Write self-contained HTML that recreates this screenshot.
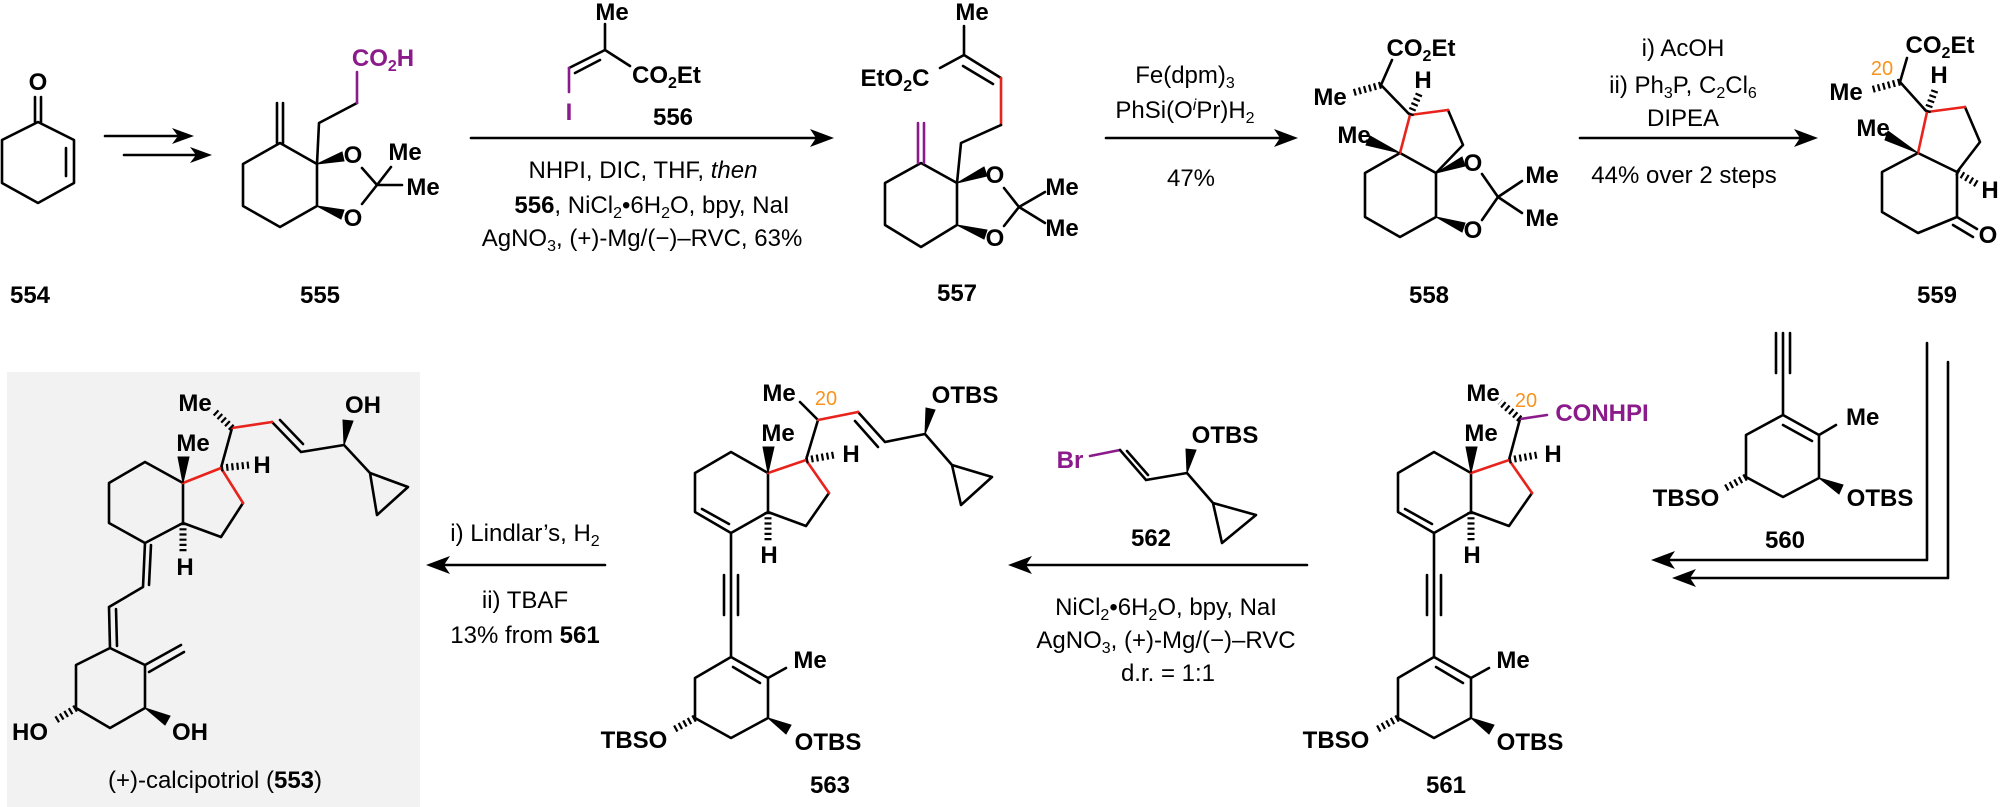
<!DOCTYPE html>
<html><head><meta charset="utf-8"><style>
html,body{margin:0;padding:0;background:#fff;}
svg{display:block}
.b{stroke:#000;stroke-width:2.6;fill:none;stroke-linejoin:round;stroke-linecap:round}
.r{stroke:#e8231c;stroke-width:2.6;fill:none;stroke-linecap:round}
.p{stroke:#8b1a8b;stroke-width:2.6;fill:none;stroke-linecap:round}
.h{stroke:#000;stroke-width:7;stroke-dasharray:2.2 3;fill:none}
.w{fill:#000;stroke:#000;stroke-width:1}
text{font-family:"Liberation Sans",Arial,sans-serif;}
.a{font-size:24px;font-weight:bold;text-anchor:middle}
.c{font-size:24px;text-anchor:middle}
.n{font-size:20px;fill:#f7931e;text-anchor:middle}
.pu{fill:#8b1a8b}
</style></head><body>
<svg width="2000" height="807" viewBox="0 0 2000 807" xmlns="http://www.w3.org/2000/svg">
<rect x="7" y="372" width="413" height="435" fill="#f2f2f2"/>

<!-- 554 -->
<path class="b" d="M38,122 L74,140 L74,183 L38,203 L2,183 L2,140 Z M66,148 L66,176 M35,97 L35,122 M41,97 L41,122"/>
<text class="a" x="38" y="90">O</text>
<text class="a" x="30" y="303">554</text>
<!-- arrows 554->555 -->
<path class="b" d="M105,136 L185,136 M124,155 L203,155"/>
<path d="M194,136 L172,128 L178,136 L172,144 Z M212,155 L190,147 L196,155 L190,163 Z" fill="#000"/>

<!-- 555 -->
<path class="b" d="M280,143 L317,164 L317,206 L280,227 L243,206 L243,164 Z M277,103 L277,143 M283,103 L283,143 M317,164 L319,123 L357,103"/>
<path class="p" d="M357,103 L357,72"/>
<polygon class="w" points="317,164 342,152 344,161"/>
<polygon class="w" points="317,206 344,210 341,219"/>
<path class="b" d="M362,168 L377,185 L362,204 M377,185 L391,167 M377,185 L402,185"/>
<text class="a pu" x="383" y="66">CO<tspan font-size="16" dy="5">2</tspan><tspan dy="-5">H</tspan></text>
<text class="a" x="353" y="163">O</text>
<text class="a" x="353" y="226">O</text>
<text class="a" x="405" y="160">Me</text>
<text class="a" x="423" y="195">Me</text>
<text class="a" x="320" y="303">555</text>

<!-- 556 -->
<path class="b" d="M605,24 L605,50 L569,68 M600,60 L575,73 M605,50 L630,66"/>
<path class="p" d="M569,68 L569,92"/>
<text class="a pu" x="569" y="120">I</text>
<text class="a" x="612" y="20">Me</text>
<text class="a" x="632" y="83" style="text-anchor:start">CO<tspan font-size="16" dy="5">2</tspan><tspan dy="-5">Et</tspan></text>
<text class="a" x="673" y="125">556</text>
<path class="b" d="M471,138 L822,138"/>
<path d="M834,138 L810,129 L816,138 L810,147 Z" fill="#000"/>
<text class="c" x="643" y="178">NHPI, DIC, THF, <tspan font-style="italic">then</tspan></text>
<text class="c" x="652" y="213"><tspan font-weight="bold">556</tspan>, NiCl<tspan font-size="16" dy="5">2</tspan><tspan dy="-5">•6H</tspan><tspan font-size="16" dy="5">2</tspan><tspan dy="-5">O, bpy, NaI</tspan></text>
<text class="c" x="642" y="246">AgNO<tspan font-size="16" dy="5">3</tspan><tspan dy="-5">, (+)-Mg/(−)–RVC, 63%</tspan></text>

<!-- 557 -->
<path class="b" d="M964,26 L964,55 L940,68 M964,55 L1001,78 M963,66 L993,84"/>
<path class="r" d="M1001,78 L1001,125"/>
<path class="b" d="M1001,125 L961,143 L957,183 M921,163 L957,183 L957,225 L921,247 L885,225 L885,183 Z"/>
<path class="p" d="M918,123 L918,163 M924,123 L924,163"/>
<polygon class="w" points="957,183 984,167 987,176"/>
<polygon class="w" points="957,225 987,230 984,239"/>
<path class="b" d="M1004,188 L1019,207 L1004,226 M1019,207 L1045,192 M1019,207 L1045,223"/>
<text class="a" x="972" y="20">Me</text>
<text class="a" x="895" y="86">EtO<tspan font-size="16" dy="5">2</tspan><tspan dy="-5">C</tspan></text>
<text class="a" x="995" y="183">O</text>
<text class="a" x="995" y="246">O</text>
<text class="a" x="1062" y="195">Me</text>
<text class="a" x="1062" y="236">Me</text>
<text class="a" x="957" y="301">557</text>
<path class="b" d="M1106,138 L1286,138"/>
<path d="M1298,138 L1274,129 L1280,138 L1274,147 Z" fill="#000"/>
<text class="c" x="1185" y="83">Fe(dpm)<tspan font-size="16" dy="5">3</tspan></text>
<text class="c" x="1185" y="118">PhSi(O<tspan font-style="italic" font-size="16" dy="-8">i</tspan><tspan dy="8">Pr)H</tspan><tspan font-size="16" dy="5">2</tspan></text>
<text class="c" x="1191" y="186">47%</text>

<!-- 558 -->
<path class="b" d="M1400,153 L1436,173 L1436,217 L1400,237 L1365,217 L1365,173 Z M1448,110 L1463,145 L1436,173 M1410,115 L1381,85 L1392,60"/>
<path class="r" d="M1400,153 L1410,115 L1448,110"/>
<path class="h" d="M1410,115 L1420,92 M1381,85 L1352,93"/>
<polygon class="w" points="1400,153 1370,136 1366,145"/>
<polygon class="w" points="1436,173 1462,157 1465,166"/>
<polygon class="w" points="1436,217 1465,223 1462,232"/>
<path class="b" d="M1482,174 L1498,197 L1482,220 M1498,197 L1522,181 M1498,197 L1522,213"/>
<text class="a" x="1421" y="56">CO<tspan font-size="16" dy="5">2</tspan><tspan dy="-5">Et</tspan></text>
<text class="a" x="1423" y="88">H</text>
<text class="a" x="1330" y="105">Me</text>
<text class="a" x="1354" y="143">Me</text>
<text class="a" x="1473" y="171">O</text>
<text class="a" x="1473" y="238">O</text>
<text class="a" x="1542" y="183">Me</text>
<text class="a" x="1542" y="226">Me</text>
<text class="a" x="1429" y="303">558</text>
<path class="b" d="M1580,138 L1806,138"/>
<path d="M1818,138 L1794,129 L1800,138 L1794,147 Z" fill="#000"/>
<text class="c" x="1683" y="56">i) AcOH</text>
<text class="c" x="1683" y="93">ii) Ph<tspan font-size="16" dy="5">3</tspan><tspan dy="-5">P, C</tspan><tspan font-size="16" dy="5">2</tspan><tspan dy="-5">Cl</tspan><tspan font-size="16" dy="5">6</tspan></text>
<text class="c" x="1683" y="126">DIPEA</text>
<text class="c" x="1684" y="183">44% over 2 steps</text>

<!-- 559 -->
<path class="b" d="M1918,153 L1957,172 L1957,217 L1918,233 L1882,212 L1882,172 Z M1965,107 L1980,142 L1957,172 M1927,112 L1900,82 L1907,58 M1957,217 L1977,229 M1953,225 L1973,237"/>
<path class="r" d="M1918,153 L1927,112 L1965,107"/>
<path class="h" d="M1900,82 L1870,90 M1927,112 L1935,90 M1957,172 L1977,184"/>
<polygon class="w" points="1918,153 1888,131 1885,140"/>
<text class="a" x="1940" y="53">CO<tspan font-size="16" dy="5">2</tspan><tspan dy="-5">Et</tspan></text>
<text class="n" x="1882" y="75">20</text>
<text class="a" x="1846" y="100">Me</text>
<text class="a" x="1939" y="83">H</text>
<text class="a" x="1873" y="136">Me</text>
<text class="a" x="1988" y="243">O</text>
<text class="a" x="1990" y="198">H</text>
<text class="a" x="1937" y="303">559</text>

<!-- 560 -->
<path class="b" d="M1783,333 L1783,415 M1776,333 L1776,373 M1790,333 L1790,373 M1783,415 L1819,435 L1819,478 L1783,497 L1746,477 L1746,435 Z M1783,425 L1812,441 M1819,435 L1836,425"/>
<path class="h" d="M1746,477 L1724,489"/>
<polygon class="w" points="1819,478 1843,485 1839,494"/>
<text class="a" x="1846" y="425" style="text-anchor:start">Me</text>
<text class="a" x="1686" y="506">TBSO</text>
<text class="a" x="1880" y="506">OTBS</text>
<text class="a" x="1785" y="548">560</text>
<path class="b" d="M1927,343 L1927,560 L1662,560 M1948,362 L1948,578 L1684,578"/>
<path d="M1651,560 L1675,551 L1669,560 L1675,569 Z M1672,578 L1696,569 L1690,578 L1696,587 Z" fill="#000"/>

<!-- 561 -->
<path class="b" d="M1509,460 L1520,419 M1532,493 L1509,526 L1471,512 M1471,473 L1434,452 L1398,473 L1398,512 L1434,533 L1471,512 Z M1405,509 L1432,524 M1434,533 L1434,657 M1427,575 L1427,615 M1441,575 L1441,615 M1434,657 L1471,678 L1471,718 L1434,738 L1398,718 L1398,678 Z M1436,667 L1463,683 M1471,678 L1489,668"/>
<path class="p" d="M1520,419 L1547,415"/>
<path class="r" d="M1471,473 L1509,460 L1532,493"/>
<path class="h" d="M1520,419 L1500,402 M1509,460 L1537,455 M1471,512 L1471,542 M1398,718 L1376,730"/>
<polygon class="w" points="1471,473 1466,447 1477,447"/>
<polygon class="w" points="1471,718 1494,725 1489,734"/>
<text class="a" x="1483" y="401">Me</text>
<text class="n" x="1526" y="407">20</text>
<text class="a pu" x="1602" y="421">CONHPI</text>
<text class="a" x="1553" y="462">H</text>
<text class="a" x="1481" y="441">Me</text>
<text class="a" x="1472" y="563">H</text>
<text class="a" x="1513" y="668">Me</text>
<text class="a" x="1530" y="750">OTBS</text>
<text class="a" x="1336" y="748">TBSO</text>
<text class="a" x="1446" y="793">561</text>

<!-- 562 + arrow -->
<path class="p" d="M1090,456 L1120,450"/>
<path class="b" d="M1120,450 L1146,480 M1127,451 L1148,475 M1146,480 L1187,473 L1213,503 M1213,503 L1256,515 L1222,543 Z"/>
<polygon class="w" points="1187,473 1186,449 1196,450"/>
<text class="a pu" x="1070" y="468">Br</text>
<text class="a" x="1225" y="443">OTBS</text>
<text class="a" x="1151" y="546">562</text>
<path class="b" d="M1307,565 L1020,565"/>
<path d="M1008,565 L1032,556 L1026,565 L1032,574 Z" fill="#000"/>
<text class="c" x="1166" y="615">NiCl<tspan font-size="16" dy="5">2</tspan><tspan dy="-5">•6H</tspan><tspan font-size="16" dy="5">2</tspan><tspan dy="-5">O, bpy, NaI</tspan></text>
<text class="c" x="1166" y="648">AgNO<tspan font-size="16" dy="5">3</tspan><tspan dy="-5">, (+)-Mg/(−)–RVC</tspan></text>
<text class="c" x="1168" y="681">d.r. = 1:1</text>

<!-- 563 -->
<path class="b" d="M806,460 L818,420 L800,402 M829,493 L806,526 L768,512 M768,473 L731,452 L695,473 L695,512 L731,533 L768,512 Z M702,509 L729,524 M731,533 L731,657 M724,575 L724,615 M738,575 L738,615 M731,657 L768,678 L768,718 L731,738 L695,718 L695,678 Z M733,667 L760,683 M768,678 L786,668 M858,412 L885,442 M855,421 L878,447 M885,442 L925,434 L952,465 M952,465 L992,477 L961,505 Z"/>
<path class="r" d="M818,420 L858,412 M768,473 L806,460 L829,493"/>
<path class="h" d="M806,460 L834,455 M768,512 L768,542 M695,718 L673,730"/>
<polygon class="w" points="768,473 763,447 774,447"/>
<polygon class="w" points="768,718 791,725 786,734"/>
<polygon class="w" points="925,434 926,408 935,410"/>
<text class="a" x="779" y="401">Me</text>
<text class="n" x="826" y="405">20</text>
<text class="a" x="965" y="403">OTBS</text>
<text class="a" x="851" y="462">H</text>
<text class="a" x="778" y="441">Me</text>
<text class="a" x="769" y="563">H</text>
<text class="a" x="810" y="668">Me</text>
<text class="a" x="828" y="750">OTBS</text>
<text class="a" x="634" y="748">TBSO</text>
<text class="a" x="830" y="793">563</text>

<!-- Lindlar arrow -->
<path class="b" d="M605,565 L438,565"/>
<path d="M426,565 L450,556 L444,565 L450,574 Z" fill="#000"/>
<text class="c" x="525" y="541">i) Lindlar’s, H<tspan font-size="16" dy="5">2</tspan></text>
<text class="c" x="525" y="608">ii) TBAF</text>
<text class="c" x="525" y="643">13% from <tspan font-weight="bold">561</tspan></text>

<!-- 553 calcipotriol -->
<path class="b" d="M221,468 L232,428 M272,422 L301,452 M280,420 L303,444 M301,452 L344,445 L370,473 M370,473 L408,487 L377,515 Z M243,503 L221,537 L183,523 M183,483 L145,462 L109,483 L109,523 L145,543 L183,523 Z M145,543 L143,587 M151,545 L149,585 M143,587 L109,607 M109,607 L110,648 M116,609 L117,646 M110,648 L145,665 L145,708 L110,728 L76,708 L76,665 Z M145,665 L181,645 M149,672 L184,652"/>
<path class="r" d="M232,428 L272,422 M183,483 L221,468 L243,503"/>
<path class="h" d="M232,428 L214,411 M221,468 L249,465 M183,523 L183,553 M76,708 L56,720"/>
<polygon class="w" points="344,445 343,420 353,421"/>
<polygon class="w" points="183,483 178,457 189,457"/>
<polygon class="w" points="145,708 170,716 165,725"/>
<text class="a" x="195" y="411">Me</text>
<text class="a" x="363" y="413">OH</text>
<text class="a" x="193" y="451">Me</text>
<text class="a" x="262" y="473">H</text>
<text class="a" x="185" y="575">H</text>
<text class="a" x="30" y="740">HO</text>
<text class="a" x="190" y="740">OH</text>
<text class="c" x="215" y="788">(+)-calcipotriol (<tspan font-weight="bold">553</tspan>)</text>
</svg>
</body></html>
